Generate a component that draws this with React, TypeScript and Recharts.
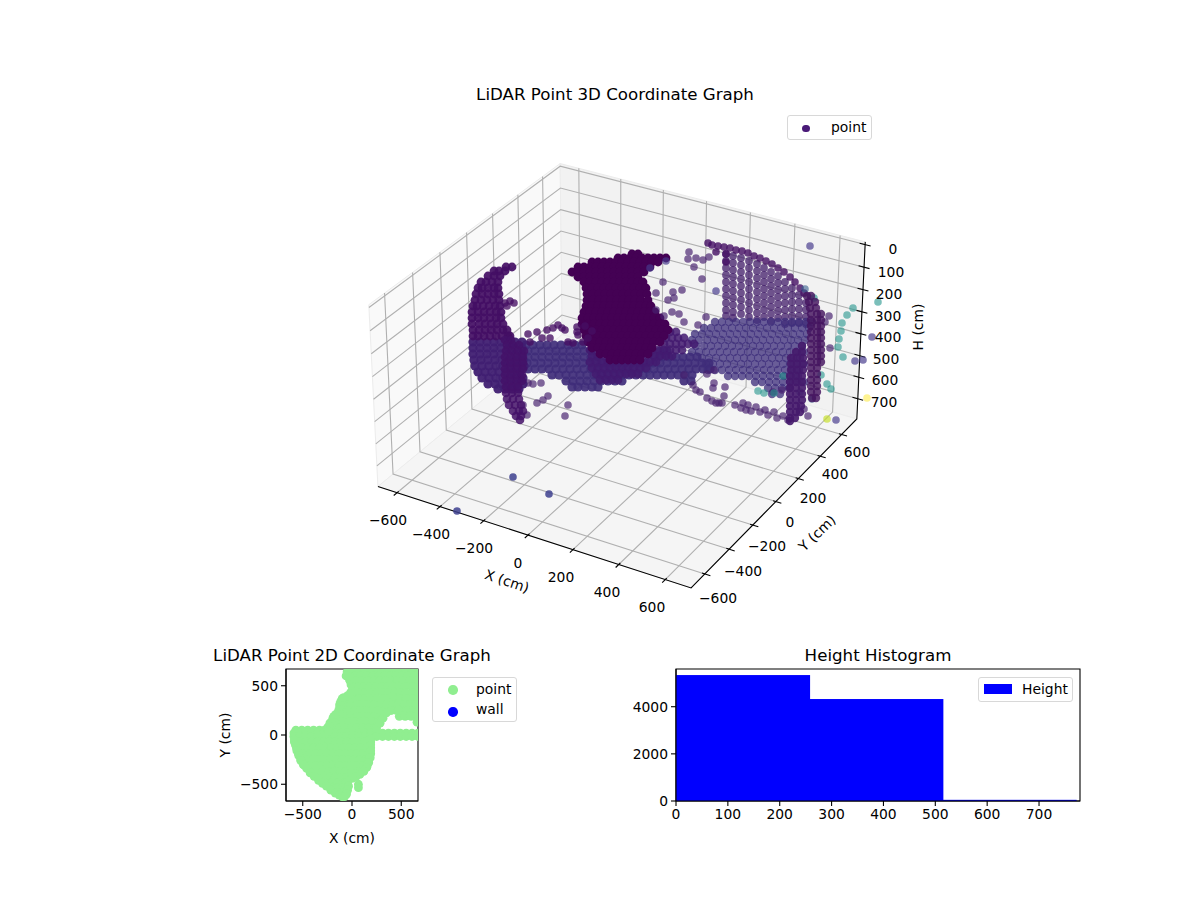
import React from "react";
import {
  ScatterChart, Scatter, XAxis, YAxis, Legend, BarChart, Bar, ReferenceArea,
} from "recharts";

// ---------- 3D frame ----------
const xTicks3d = [-600, -400, -200, 0, 200, 400, 600];
const yTicks3d = [-600, -400, -200, 0, 200, 400, 600];
const hTicks3d = [0, 100, 200, 300, 400, 500, 600, 700];
const xLimits = [-690, 710];
const yLimits = [-710, 745];
const hLimits = [-12, 795];

const xTickLabelSpots = [[388, 520], [431, 534], [474, 548], [518, 563], [561, 577], [607, 592], [652, 607]];
const yTickLabelSpots = [[718, 598], [743, 571], [767, 546], [790, 522], [813, 498], [835, 474], [857, 452]];
const hTickLabelSpots = [[893, 249], [891, 272], [889, 294], [888, 316], [888, 337], [886, 359], [885, 380], [884, 402]];

// ---------- 3D points, read off the picture as projected plane positions ----------
// rows: [plane y, plane x, plane x, ...]
const leftArchRows = [
  [267, 512, 506], [271, 505, 499, 494], [276, 500, 494, 488], [282, 498, 492, 486, 481],
  [288, 498, 494, 488, 482, 478], [294, 499, 494, 488, 482, 476], [300, 499, 493, 487, 481, 475],
  [306, 500, 495, 489, 483, 477, 473], [312, 501, 496, 490, 484, 478, 472], [318, 501, 496, 490, 484, 478, 472],
  [324, 503, 497, 491, 485, 479, 472], [330, 507, 503, 497, 491, 485, 479, 473], [336, 510, 508, 502, 496, 490, 484, 478, 473],
];
const leftBodyRows = [
  [342, 473, 480, 487, 494, 501, 508, 515, 522], [348, 473, 480, 487, 494, 501, 508, 515, 522],
  [354, 473, 480, 487, 494, 501, 508, 515, 522], [360, 474, 481, 488, 495, 502, 509, 516, 523],
  [366, 475, 482, 489, 496, 503, 510, 517, 524], [372, 478, 485, 492, 499, 506, 513, 520],
  [378, 482, 489, 496, 503, 510, 517, 523], [384, 488, 495, 502, 509, 516, 523], [389, 498, 505, 512, 519],
];
const leftPillarRows = [
  [340, 505, 511], [345, 507, 513, 519], [351, 506, 512, 518, 524], [357, 505, 511, 517, 523], [363, 505, 511, 517, 523],
  [369, 505, 511, 517, 523], [375, 505, 511, 517, 522], [381, 505, 511, 517, 522], [387, 506, 512, 518],
  [393, 506, 512, 518], [399, 507, 513, 519], [405, 509, 515, 521], [411, 513, 519, 523], [416, 516, 521], [420, 520],
];
const bandRows = [
  [345, 526, 533, 540, 547, 554, 561, 568, 575, 582],
  [351, 528, 535, 542, 549, 556, 563, 570, 577, 584, 591, 660, 667],
  [357, 528, 535, 542, 549, 556, 563, 570, 577, 584, 591, 598, 655, 662, 669, 676, 683, 690, 697],
  [363, 527, 534, 541, 548, 555, 562, 569, 576, 583, 590, 597, 604, 611, 618, 625, 632, 639, 646, 653, 660, 667, 674, 681, 688, 695, 702, 709],
  [369, 528, 535, 542, 549, 556, 563, 570, 577, 584, 591, 598, 605, 612, 619, 626, 633, 640, 647, 654, 661, 668, 675, 682, 689, 696, 703, 710],
  [375, 552, 559, 566, 573, 580, 587, 594, 601, 608, 615, 622, 629, 636, 643, 650, 657, 664, 671, 678, 685, 692],
  [381, 566, 573, 580, 587, 594, 601, 608, 615, 622, 684, 691],
  [387, 572, 578, 585, 592, 598],
];
const skirtRows = [
  [332, 670, 676], [338, 666, 672, 678, 684], [344, 664, 670, 676, 682, 688, 694],
  [350, 590, 596, 652, 658, 664, 670, 676, 682],
  [356, 592, 598, 604, 648, 654, 660, 666, 672],
  [362, 590, 596, 602, 608, 614, 620, 626, 632, 638, 644, 650, 656],
  [368, 592, 598, 604, 610, 616, 622, 628, 634, 640, 646],
  [374, 596, 602, 608, 614, 620, 626, 632, 638],
  [380, 600, 606, 612, 618],
];
const centreBlobRows = [
  [254, 632, 638],
  [258, 618, 624, 630, 636, 642, 648, 654, 660, 666],
  [262, 592, 598, 604, 610, 616, 622, 628, 634, 640, 646, 652, 658],
  [267, 578, 584, 590, 596, 602, 608, 614, 620, 626, 632, 638, 644, 650],
  [272, 572, 578, 584, 590, 596, 602, 608, 614, 620, 626, 632, 638, 644],
  [277, 578, 584, 590, 596, 602, 608, 614, 620, 626, 632, 638],
  [282, 584, 590, 596, 602, 608, 614, 620, 626, 632, 638, 643],
  [288, 586, 592, 598, 604, 610, 616, 622, 628, 634, 640, 646],
  [294, 587, 593, 599, 605, 611, 617, 623, 629, 635, 641, 647],
  [300, 587, 593, 599, 605, 611, 617, 623, 629, 635, 641, 648],
  [306, 586, 592, 598, 604, 610, 616, 622, 628, 634, 640, 646, 651],
  [312, 584, 590, 596, 602, 608, 614, 620, 626, 632, 638, 644, 650, 655],
  [318, 582, 588, 594, 600, 606, 612, 618, 624, 630, 636, 642, 648, 654, 660],
  [324, 582, 588, 594, 600, 606, 612, 618, 624, 630, 636, 642, 648, 654, 660, 665],
  [330, 584, 590, 596, 602, 608, 614, 620, 626, 632, 638, 644, 650, 656, 662, 668],
  [336, 586, 592, 598, 604, 610, 616, 622, 628, 634, 640, 646, 652, 658, 664],
  [342, 588, 594, 600, 606, 612, 618, 624, 630, 636, 642, 648, 654, 660],
  [348, 592, 598, 604, 610, 616, 622, 628, 634, 640, 646, 652],
  [354, 600, 606, 612, 618, 624, 630, 636, 642, 648],
  [360, 610, 616, 622, 628, 634, 640],
];
// columns: [plane x, plane y, plane y, ...]
const curtainColumns = [
  [726, 254, 261, 268, 275, 282, 289, 296, 303, 310, 316],
  [733, 256, 263, 270, 277, 284, 291, 298, 305, 312, 318],
  [741, 258, 265, 272, 279, 286, 293, 300, 307, 314],
  [749, 261, 268, 275, 282, 289, 296, 303, 310, 317],
  [757, 264, 271, 278, 285, 292, 299, 306, 313, 320],
  [764, 268, 275, 282, 289, 296, 303, 310, 317],
  [771, 272, 279, 286, 293, 300, 307, 314, 321],
  [778, 276, 283, 290, 297, 304, 311, 318],
  [785, 282, 289, 296, 303, 310, 317, 324],
  [792, 288, 295, 302, 309, 316, 323],
  [799, 295, 302, 309, 316, 323],
  [806, 303, 310, 317, 324],
];
const curtainTop = [
  [708, 243], [712, 245], [718, 246], [716, 252], [724, 247], [730, 248], [736, 250], [742, 251], [748, 253], [754, 256],
  [760, 258], [766, 261], [772, 264], [778, 268], [784, 272], [790, 277], [795, 282], [800, 288], [804, 293], [726, 254], [726, 262],
];
const fanRows = [
  [322, 715, 722, 729, 736, 743, 750, 757, 764, 771, 778, 785, 792, 799, 806, 812],
  [328, 704, 711, 718, 725, 732, 739, 746, 753, 760, 767, 774, 781, 788, 795, 802, 809],
  [334, 695, 702, 709, 716, 723, 730, 737, 744, 751, 758, 765, 772, 779, 786, 793, 800, 807],
  [340, 692, 699, 707, 714, 721, 728, 735, 742, 749, 756, 763, 770, 777, 784, 791, 798, 805],
  [346, 696, 704, 711, 718, 725, 732, 739, 746, 753, 760, 767, 774, 781, 788, 795, 802],
  [352, 692, 699, 706, 713, 720, 727, 734, 741, 748, 755, 762, 769, 776, 783, 790, 797, 804],
  [358, 702, 709, 716, 723, 730, 737, 744, 751, 758, 765, 772, 779, 786, 793, 800],
  [364, 706, 713, 720, 727, 734, 741, 748, 755, 762, 769, 776, 783, 790, 797, 804],
  [370, 708, 715, 722, 729, 736, 743, 750, 757, 764, 771, 778, 785, 792, 799],
  [376, 728, 735, 742, 749, 756, 763, 770, 777, 784, 791, 798],
  [382, 755, 762, 769, 776, 783, 790, 797, 804],
  [388, 768, 775, 782, 789],
  [394, 772, 780],
];
const rightPillarRows = [
  [296, 807, 811], [302, 809, 815], [308, 810, 816], [314, 811, 817, 821], [320, 811, 817, 821],
  [326, 811, 817, 821], [332, 811, 817, 821], [338, 811, 817, 821], [344, 811, 817, 821], [350, 811, 817, 821],
  [356, 811, 817, 821], [362, 811, 817, 821], [368, 811, 817], [374, 811, 817], [380, 811, 817], [386, 811, 817],
  [392, 811, 817], [398, 812, 816],
];
const frontPillarRows = [
  [346, 802], [352, 796, 802], [358, 791, 797, 803], [364, 791, 797, 803], [370, 791, 797, 803], [376, 790, 796, 802],
  [382, 790, 796, 802], [388, 790, 796, 802], [394, 790, 796, 802], [400, 790, 796, 802], [406, 790, 796, 801],
  [412, 790, 796, 800], [418, 790, 795], [421, 790],
];
const loopPoints = [
  [528, 334], [537, 332], [547, 330], [553, 328], [558, 325], [562, 328], [565, 330], [577, 327], [577, 332], [568, 342],
  [573, 343], [578, 335], [583, 342], [542, 338], [550, 338], [530, 342], [588, 338], [592, 331], [585, 326],
  [505, 303], [510, 301], [514, 303], [507, 306],
];
const loosePoints = [
  [689, 252], [688, 259], [696, 258], [703, 260], [709, 257], [694, 267], [702, 279], [663, 282], [656, 293], [673, 292],
  [682, 290], [674, 298], [679, 314], [698, 325], [706, 317], [668, 300], [672, 312], [664, 316], [684, 322], [656, 310],
  [829, 316], [825, 322], [830, 348], [693, 385], [696, 390], [700, 392], [714, 383], [713, 388], [725, 387], [724, 396],
  [707, 398], [712, 401], [716, 403], [719, 403], [722, 403], [735, 405], [743, 403], [748, 405], [741, 408], [746, 410],
  [751, 411], [756, 407], [760, 412], [765, 410], [768, 415], [774, 412], [777, 418], [783, 416], [788, 420], [804, 409],
  [808, 416], [684, 375], [707, 374], [714, 370], [541, 383], [533, 384], [528, 383], [537, 403], [543, 400], [548, 396],
  [568, 405], [565, 416], [527, 415], [523, 405], [773, 392], [782, 390], [790, 388],
];
const paleBluePoints = [
  [810, 246], [716, 291], [872, 337], [863, 360], [855, 361], [836, 420], [650, 268], [666, 261],
];
const deepBluePoints = [[513, 477], [549, 494], [457, 511]];
const slatePoints = [[805, 289], [812, 399], [800, 392]];
const tealPoints = [
  [814, 298], [853, 308], [847, 315], [842, 323], [841, 331], [839, 339], [838, 347], [843, 357], [878, 302],
  [821, 375], [827, 384], [831, 389], [758, 391], [764, 393], [774, 393], [783, 376],
];
const yellowPoints = [[867, 398]];
const limePoints = [[827, 419]];

// ---------- 2D map: rows of [Y cm, X cm, X cm, ...] ----------
const mapRows = [
  [640, 10, 70, 130, 190, 250, 310, 370, 430, 490, 550, 610, 670],
  [600, -30, 30, 90, 150, 210, 270, 330, 390, 450, 510, 570, 630],
  [550, -20, 40, 100, 160, 220, 280, 340, 400, 460, 520, 590, 660],
  [490, 10, 60, 120, 180, 240, 300, 360, 420, 480, 540, 610, 670],
  [430, 10, 70, 130, 190, 250, 310, 370, 430, 490, 550, 610, 670],
  [370, -100, -50, 10, 70, 130, 190, 250, 310, 370, 430, 490, 550, 610, 670],
  [310, -125, -70, -10, 50, 110, 170, 230, 290, 350, 410, 470, 530, 590, 650],
  [250, -135, -90, -30, 30, 90, 150, 210, 270, 330, 390, 450, 510, 570, 630, 680],
  [190, -185, -130, -70, -10, 50, 110, 170, 230, 290, 480, 540, 600, 660],
  [130, -210, -150, -90, -30, 30, 90, 150, 210, 270, 660],
  [70, -250, -190, -130, -70, -10, 50, 110, 170, 230],
  [50, -570, -510, -450, -390, -330, -280],
  [20, -590, -530, -470, -410, -350, -290, -230, -170, -110, -50, 10, 70, 130, 190, 250, 310, 370, 430, 490, 550, 610, 670],
  [-15, -590, -530, -470, -410, -350, -290, -230, -170, -110, -50, 10, 70, 130, 190, 250, 310, 370, 430, 490, 550, 610, 670],
  [-70, -585, -530, -470, -410, -350, -290, -230, -170, -110, -50, 10, 70, 130, 190],
  [-130, -565, -510, -450, -390, -330, -270, -210, -150, -90, -30, 30, 90, 150, 190],
  [-190, -545, -490, -430, -370, -310, -250, -190, -130, -70, -10, 50, 110, 170, 190],
  [-250, -520, -460, -400, -340, -280, -220, -160, -100, -40, 20, 80, 140, 170],
  [-310, -480, -430, -370, -310, -250, -190, -130, -70, -10, 50, 110, 155],
  [-370, -410, -360, -300, -240, -180, -120, -60, 0, 60, 90],
  [-430, -340, -290, -230, -170, -110, -50, 0],
  [-490, -270, -210, -150, -90, -60],
  [-540, -205, -150, -100, -60],
  [-590, -135, -90],
  [-620, -100],
];
const mapOutline = [
  [-585, -50], [-575, -100], [-560, -160], [-540, -210], [-520, -260], [-495, -300], [-460, -340], [-425, -385], [-385, -420],
  [-340, -460], [-300, -490], [-260, -520], [-215, -560], [-170, -590], [-130, -610], [-100, -625],
  [190, -40], [190, -100], [190, -160], [185, -230], [170, -280], [150, -330], [120, -370], [80, -400], [40, -425], [0, -440],
  [-45, -480], [-35, -520], [-45, -560], [-55, -600], [-75, -625],
  [-245, 80], [-225, 120], [-195, 170], [-165, 210], [-135, 240], [-125, 290], [-115, 340], [-85, 380], [-45, 400], [-15, 430],
  [5, 470], [-10, 510], [-25, 560], [-30, 600], [-240, 40],
  [250, 70], [285, 120], [315, 170], [350, 225], [400, 250], [470, 250], [530, 200], [590, 197], [670, 210],
  [-50, 640], [-60, 600],
];
const mapLobe = [[65, -500], [65, -535]];
const mapWall: { x: number; y: number }[] = [];
const map2dTicks = [-500, 0, 500];
const map2dDomain = [-670, 670];

// ---------- Histogram ----------
const heightBinCentres = [129, 386, 643];
const heightCounts = [5343, 4326, 50];
const histXTicks = [0, 100, 200, 300, 400, 500, 600, 700];
const histYTicks = [0, 2000, 4000];

// ---------- helpers ----------
const FONT = "'DejaVu Sans', sans-serif";
const fromRows = (rows: number[][]) => rows.flatMap(([y, ...xs]) => xs.map((x) => ({ x, y })));
const fromCols = (cols: number[][]) => cols.flatMap(([x, ...ys]) => ys.map((y) => ({ x, y })));
const fromPairs = (p: number[][]) => p.map(([x, y]) => ({ x, y }));
const minus = (v: number) => String(v).replace("-", "\u2212");

const BOX_W = 1.24, BOX_H = 0.72, LENS = 2877, OX = 622, OY = 364;
function project(cx: number, cy: number, ch: number) {
  const bx = ((cx - xLimits[0]) / (xLimits[1] - xLimits[0]) - 0.5) * BOX_W;
  const by = ((cy - yLimits[0]) / (yLimits[1] - yLimits[0]) - 0.5) * BOX_W;
  const bz = ((hLimits[1] - ch) / (hLimits[1] - hLimits[0]) - 0.5) * BOX_H;
  const u = 0.8660254 * bx + 0.5 * by;
  const v = -0.25 * bx + 0.4330127 * by + 0.8660254 * bz;
  const n = 0.4330127 * bx - 0.75 * by + 0.5 * bz;
  const d = 10 - n;
  return { x: OX + (LENS * u) / d, y: OY - (LENS * v) / d };
}
const [x0, x1] = xLimits;
const [y0, y1] = yLimits;
const [hTop, hBot] = hLimits;

const gridLines = [
  ...xTicks3d.map((t) => [project(t, y0, hBot), project(t, y1, hBot), project(t, y1, hTop)]),
  ...yTicks3d.map((t) => [project(x1, t, hBot), project(x0, t, hBot), project(x0, t, hTop)]),
  ...hTicks3d.map((t) => [project(x0, y0, t), project(x0, y1, t), project(x1, y1, t)]),
];
const axisLines = [
  [project(x0, y0, hBot), project(x1, y0, hBot), project(x1, y1, hBot), project(x1, y1, hTop)],
];
const tickMarks = [
  ...xTicks3d.map((t) => [project(t, y0 - 24, hBot), project(t, y0 + 12, hBot)]),
  ...yTicks3d.map((t) => [project(x1 - 12, t, hBot), project(x1 + 24, t, hBot)]),
  ...hTicks3d.map((t) => [project(x1 - 24, y1, t), project(x1 + 24, y1, t)]),
];
const panes = [
  { fill: "#f9f9f9", corners: [project(x0, y0, hBot), project(x0, y1, hBot), project(x0, y1, hTop), project(x0, y0, hTop)] },
  { fill: "#f2f2f2", corners: [project(x0, y1, hBot), project(x1, y1, hBot), project(x1, y1, hTop), project(x0, y1, hTop)] },
  { fill: "#f5f5f5", corners: [project(x0, y0, hBot), project(x1, y0, hBot), project(x1, y1, hBot), project(x0, y1, hBot)] },
];
const paneData = panes.map((p) => ({ x: p.corners[0].x, y: p.corners[0].y, fill: p.fill, corners: p.corners }));

const labels3d = [
  ...xTicks3d.map((t, i) => ({ x: xTickLabelSpots[i][0], y: xTickLabelSpots[i][1], text: minus(t), rotate: 0 })),
  ...yTicks3d.map((t, i) => ({ x: yTickLabelSpots[i][0], y: yTickLabelSpots[i][1], text: minus(t), rotate: 0 })),
  ...hTicks3d.map((t, i) => ({ x: hTickLabelSpots[i][0], y: hTickLabelSpots[i][1], text: minus(t), rotate: 0 })),
  { x: 507, y: 581, text: "X (cm)", rotate: 18.5 },
  { x: 817, y: 533, text: "Y (cm)", rotate: -44 },
  { x: 918, y: 327, text: "H (cm)", rotate: -90 },
];

const dot = (fill: string, opacity: number, r = 3.8) => (p: any) =>
  <circle cx={p.cx} cy={p.cy} r={r} fill={fill} fillOpacity={opacity} />;
const noDot = () => <g />;
const paneShape = (p: any) => {
  const c = p.payload.corners as { x: number; y: number }[];
  return <polygon points={c.map((q) => `${q.x},${q.y}`).join(" ")} fill={p.payload.fill} stroke="#ececec" strokeWidth={1} />;
};
const labelShape = (p: any) => (
  <text x={p.cx} y={p.cy} transform={`rotate(${p.payload.rotate} ${p.cx} ${p.cy})`} textAnchor="middle"
    dominantBaseline="central" fontFamily={FONT} fontSize={13.89} fill="#000">{p.payload.text}</text>
);

const pointSeries = [
  { key: "curtain", data: fromCols(curtainColumns), fill: "#45206c", op: 0.76, r: 3.9 },
  { key: "fan", data: fromRows(fanRows), fill: "#3e2e7b", op: 0.76, r: 4.2 },
  { key: "band", data: fromRows(bandRows), fill: "#3f2c7a", op: 0.92, r: 4.6 },
  { key: "skirt", data: fromRows(skirtRows), fill: "#431a70", op: 0.85, r: 4.4 },
  { key: "centre", data: fromRows(centreBlobRows), fill: "#440154", op: 1, r: 4.4 },
  { key: "curtainTop", data: fromPairs(curtainTop), fill: "#440e63", op: 0.8, r: 3.8 },
  { key: "loops", data: fromPairs(loopPoints), fill: "#450e63", op: 0.78, r: 3.8 },
  { key: "loose", data: fromPairs(loosePoints), fill: "#47206f", op: 0.68, r: 3.8 },
  { key: "pale", data: fromPairs(paleBluePoints), fill: "#453a8c", op: 0.68, r: 3.8 },
  { key: "deep", data: fromPairs(deepBluePoints), fill: "#3d3f8e", op: 0.85, r: 3.8 },
  { key: "slate", data: fromPairs(slatePoints), fill: "#355f8d", op: 0.6, r: 3.8 },
  { key: "teal", data: fromPairs(tealPoints), fill: "#23948c", op: 0.6, r: 3.8 },
  { key: "yellow", data: fromPairs(yellowPoints), fill: "#fde725", op: 0.5, r: 3.8 },
  { key: "lime", data: fromPairs(limePoints), fill: "#c5df21", op: 0.65, r: 3.8 },
  { key: "leftBody", data: fromRows(leftBodyRows), fill: "#401f72", op: 0.95, r: 4.6 },
  { key: "leftArch", data: fromRows(leftArchRows), fill: "#430e64", op: 0.92, r: 4.4 },
  { key: "leftPillar", data: fromRows(leftPillarRows), fill: "#441268", op: 0.85, r: 4.3 },
  { key: "rightPillar", data: fromRows(rightPillarRows), fill: "#44145f", op: 0.82, r: 4.2 },
  { key: "frontPillar", data: fromRows(frontPillarRows), fill: "#451a6c", op: 0.9, r: 4.2 },
];

const legendBox: React.CSSProperties = {
  boxSizing: "border-box", background: "rgba(255,255,255,0.8)", border: "1.4px solid #d8d8d8", borderRadius: 3,
  fontFamily: FONT, fontSize: 13.89, color: "#000", position: "relative",
};
const legendText = (left: number, top: number, s: string) => (
  <span style={{ position: "absolute", left, top, lineHeight: "16px" }}>{s}</span>
);
const legendDot = (left: number, top: number, c: string, size: number) => (
  <span style={{ position: "absolute", left, top, width: size, height: size, borderRadius: "50%", background: c }} />
);

const Legend3D = () => (
  <div style={{ ...legendBox, width: 85, height: 25 }}>
    {legendDot(14, 8.5, "#4a1a78", 7.6)}
    {legendText(43, 3, "point")}
  </div>
);
const Legend2D = () => (
  <div style={{ ...legendBox, width: 85, height: 45 }}>
    {legendDot(15, 7, "#90ee90", 9.5)}
    {legendDot(15, 29, "#0000ff", 9.5)}
    {legendText(43, 3, "point")}
    {legendText(43, 23, "wall")}
  </div>
);
const LegendHist = () => (
  <div style={{ ...legendBox, width: 95, height: 25 }}>
    <span style={{ position: "absolute", left: 5, top: 6, width: 28, height: 10, background: "#0000ff" }} />
    {legendText(43, 3, "Height")}
  </div>
);

const title = (cx: number, y: number, s: string) => (
  <div style={{ position: "absolute", left: cx - 200, top: y, width: 400, textAlign: "center", fontFamily: FONT, fontSize: 16.67, lineHeight: "20px", color: "#000" }}>{s}</div>
);

const axisTick = { fill: "#000", fontSize: 13.89, fontFamily: FONT };
const tickLine = { stroke: "#000", strokeWidth: 1.1 };
const axisLine = { stroke: "#000", strokeWidth: 1.1 };

const mapData = [...fromRows(mapRows), ...fromPairs(mapOutline), ...fromPairs(mapLobe)];
const histData = heightBinCentres.map((mid, i) => ({ mid, count: heightCounts[i] }));
const HIST_BAR_PX = 134;
const histBar = (p: any) => (
  <rect x={p.x + p.width / 2 - HIST_BAR_PX / 2} y={p.y} width={HIST_BAR_PX} height={p.height} fill="#0000ff" />
);

export default function App() {
  return (
    <div style={{ position: "absolute", left: 0, top: 0, width: 1200, height: 900, background: "#fff", overflow: "hidden" }}>
      <div style={{ position: "absolute", left: 0, top: 0 }}>
        <ScatterChart width={1200} height={900} margin={{ top: 0, right: 0, bottom: 0, left: 0 }}>
          <XAxis type="number" dataKey="x" domain={[0, 1200]} hide />
          <YAxis type="number" dataKey="y" domain={[0, 900]} reversed hide />
          <Legend layout="horizontal" verticalAlign="middle" align="center" content={<Legend3D />}
            wrapperStyle={{ position: "absolute", left: 787, top: 115, width: 85, height: 25, margin: 0 }} />
          <Scatter name="panes" data={paneData} shape={paneShape} isAnimationActive={false} legendType="none" />
          {gridLines.map((g, i) => (
            <Scatter key={`g${i}`} data={g} line={{ stroke: "#b0b0b0", strokeWidth: 1.1 }} shape={noDot} isAnimationActive={false} legendType="none" />
          ))}
          {axisLines.map((g, i) => (
            <Scatter key={`a${i}`} data={g} line={{ stroke: "#000", strokeWidth: 1.1 }} shape={noDot} isAnimationActive={false} legendType="none" />
          ))}
          {tickMarks.map((g, i) => (
            <Scatter key={`t${i}`} data={g} line={{ stroke: "#000", strokeWidth: 1.1 }} shape={noDot} isAnimationActive={false} legendType="none" />
          ))}
          {pointSeries.map((s) => (
            <Scatter key={s.key} name={s.key === "centre" ? "point" : s.key} data={s.data} shape={dot(s.fill, s.op, s.r)} isAnimationActive={false} />
          ))}
          <Scatter name="labels" data={labels3d} shape={labelShape} isAnimationActive={false} legendType="none" />
        </ScatterChart>
      </div>
      {title(615, 85, "LiDAR Point 3D Coordinate Graph")}

      <div style={{ position: "absolute", left: 200, top: 640 }}>
        <ScatterChart width={330} height={210} margin={{ top: 29, right: 112, bottom: 0, left: 0 }}>
          <XAxis type="number" dataKey="x" domain={map2dDomain} allowDataOverflow ticks={map2dTicks} tickFormatter={minus}
            tick={axisTick} tickLine={tickLine} axisLine={axisLine} tickSize={5} tickMargin={3} height={49}
            label={{ value: "X (cm)", position: "insideBottom", offset: 7, style: axisTick }} />
          <YAxis type="number" dataKey="y" domain={map2dDomain} allowDataOverflow ticks={map2dTicks} tickFormatter={minus}
            tick={axisTick} tickLine={tickLine} axisLine={axisLine} tickSize={5} tickMargin={3} width={86}
            label={{ value: "Y (cm)", angle: -90, position: "insideLeft", offset: 25, style: { ...axisTick, textAnchor: "middle" } }} />
          <Legend layout="horizontal" verticalAlign="middle" align="center" content={<Legend2D />}
            wrapperStyle={{ position: "absolute", left: 232, top: 37, width: 85, height: 45, margin: 0 }} />
          <Scatter name="point" data={mapData} shape={dot("#90ee90", 1, 4.4)} isAnimationActive={false} />
          <Scatter name="wall" data={mapWall} fill="#0000ff" isAnimationActive={false} />
          <ReferenceArea x1={map2dDomain[0]} x2={map2dDomain[1]} y1={map2dDomain[0]} y2={map2dDomain[1]} fill="none" stroke="#000" strokeWidth={1.1} ifOverflow="visible" />
        </ScatterChart>
      </div>
      {title(352, 646, "LiDAR Point 2D Coordinate Graph")}

      <div style={{ position: "absolute", left: 620, top: 640 }}>
        <BarChart width={480} height={210} data={histData} margin={{ top: 29, right: 20, bottom: 0, left: 0 }}>
          <XAxis type="number" dataKey="mid" domain={[0, 779]} ticks={histXTicks} allowDataOverflow
            tick={axisTick} tickLine={tickLine} axisLine={axisLine} tickSize={5} tickMargin={3} height={49} />
          <YAxis type="number" domain={[0, 5600]} ticks={histYTicks}
            tick={axisTick} tickLine={tickLine} axisLine={axisLine} tickSize={5} tickMargin={3} width={56} />
          <Legend layout="horizontal" verticalAlign="middle" align="center" content={<LegendHist />}
            wrapperStyle={{ position: "absolute", left: 358, top: 37, width: 95, height: 25, margin: 0 }} />
          <Bar dataKey="count" name="Height" fill="#0000ff" shape={histBar} isAnimationActive={false} />
          <ReferenceArea x1={0} x2={779} y1={0} y2={5600} fill="none" stroke="#000" strokeWidth={1.1} ifOverflow="visible" />
        </BarChart>
      </div>
      {title(878, 646, "Height Histogram")}
    </div>
  );
}
